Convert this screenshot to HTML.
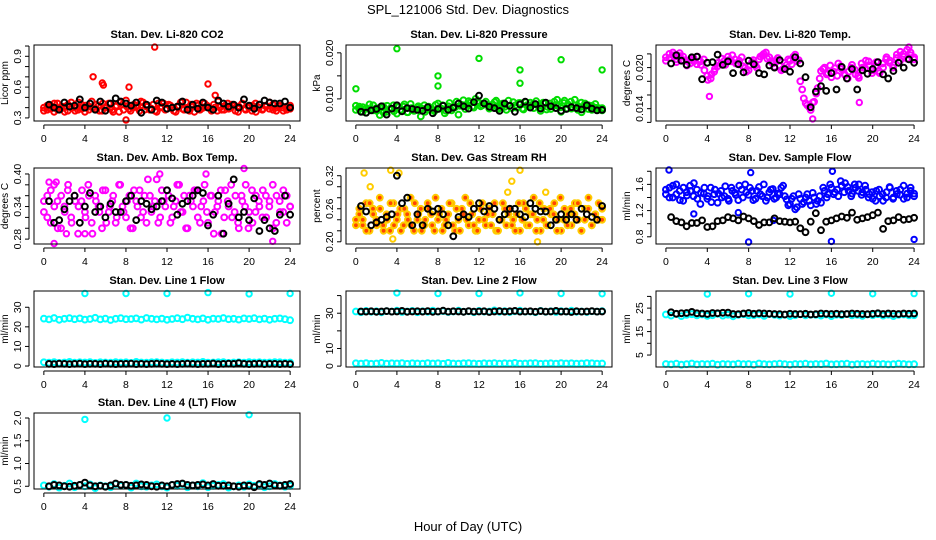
<!DOCTYPE html>
<html><head><meta charset="utf-8"><style>
html,body{margin:0;padding:0;background:#fff;}
svg{display:block;font-family:"Liberation Sans",Arial,sans-serif;}
</style></head><body>
<svg id="chart" width="936" height="540" viewBox="0 0 936 540">
<rect width="936" height="540" fill="#fff"/>
<text x="468" y="14" text-anchor="middle" font-size="13">SPL_121006  Std. Dev. Diagnostics</text>
<text x="468" y="531" text-anchor="middle" font-size="13">Hour of Day (UTC)</text>
</svg>
<script>
// ---- data ----
const hourTicks = [0,4,8,12,16,20,24];

const co2Color = [.40,.38,.42,.36,.44,.39,.41,.37,.45,.40,.38,.43,.36,.41,.46,.39,.42,.37,.40,.44,.38,.41,.36,.43,.47,.39,.40,.42,.37,.45,.41,.38,.43,.36,.40,.44,.39,.42,.37,.41,.45,.38,.40,.43,.36,.42,.39,.44,.41,.37,.40,.46,.38,.42,.39,.43,.37,.41,.44,.38,.40,.42,.36,.43,.39,.41,.45,.38,.40,.42,.37,.41,.39];
const co2Color2 = [.37,.42,.39,.44,.38,.41,.36,.43,.40,.37,.45,.39,.42,.38,.40,.43,.37,.44,.41,.39,.36,.42,.45,.38,.41,.37,.43,.40,.46,.38,.42,.39,.37,.44,.41,.38,.43,.40,.36,.42,.39,.45,.37,.41,.44,.38,.40,.42,.39,.43,.37,.41,.38,.44,.40,.42,.36,.43,.39,.41,.37,.44,.40,.38,.42,.39,.43,.37,.41,.40,.38,.42];
const co2Black = [.43,.40,.38,.45,.41,.42,.48,.40,.44,.38,.46,.37,.44,.49,.46,.44,.42,.45,.35,.43,.38,.47,.45,.39,.40,.41,.46,.38,.43,.39,.45,.40,.38,.47,.44,.41,.43,.40,.48,.42,.39,.43,.47,.45,.44,.44,.46,.40];
const co2OutHour = [4.8,5.7,5.8,8.3,10.8,16,8,16.7];
const co2OutVal = [.70,.64,.62,.60,.99,.63,.28,.52];

const presColor = [8.5,7.8,8.2,7.0,8.8,7.5,8.0,6.5,8.4,7.2,7.9,8.6,6.8,7.6,8.3,7.1,8.9,7.4,8.1,6.2,8.6,7.7,8.0,7.3,9.0,7.9,6.9,8.4,7.5,8.2,6.6,8.7,7.8,9.5,8.3,10.0,9.2,8.6,9.4,7.9,8.8,9.6,8.2,9.0,7.6,8.5,9.3,8.1,9.1,7.7,8.6,9.2,8.0,8.7,7.4,9.0,8.3,7.8,9.4,8.5,7.2,9.6,8.8,7.9,9.8,8.4,7.1,9.0,8.6,7.6,8.9,8.0,7.5];
const presColor2 = [7.6,8.3,7.2,8.0,7.7,8.6,7.4,8.1,7.0,8.5,7.8,7.3,8.2,7.6,8.8,7.1,8.0,7.5,8.4,7.9,7.2,8.3,7.6,8.7,7.9,8.6,7.4,9.1,8.0,9.4,8.5,9.7,8.8,9.2,8.1,9.5,8.4,9.0,8.7,8.2,9.3,7.8,8.9,8.3,9.6,8.0,8.6,9.1,7.9,9.3,8.4,8.8,9.5,8.1,9.2,7.7,9.0,8.5,9.8,8.2,9.1,7.9,9.4,8.6,7.6,9.2,8.3,7.8,8.5,8.1,7.7,8.0];
const presBlack = [7.2,7.0,7.5,7.8,8.4,6.6,7.9,8.6,7.3,8.0,7.8,7.6,7.4,8.2,6.9,7.8,8.5,7.6,8.1,9.0,8.4,7.9,9.3,10.7,9.0,8.3,8.0,7.4,9.0,8.5,7.2,8.8,9.4,8.1,8.9,7.9,9.2,8.4,8.0,7.4,7.8,8.2,8.0,7.7,8.6,7.9,7.5,7.6];
const presOutHour = [0,4,8,8,12,16,16,20,24];
const presOutVal = [12.2,20.9,15.0,12.8,18.8,16.3,13.4,18.5,16.3];

const tempColor = [21.5,22.0,21.8,21.2,22.1,21.6,21.0,20.6,21.4,20.5,20.9,21.2,18.8,18.4,19.4,20.2,20.6,21.0,21.6,20.9,21.2,20.5,21.5,20.0,19.6,20.8,20.3,21.2,21.8,22.2,21.5,20.6,21.1,20.2,19.8,20.4,21.0,21.6,20.9,18.0,15.5,14.5,13.8,15.0,17.0,19.5,20.0,19.2,18.6,19.9,20.6,19.8,18.9,19.4,20.4,19.0,18.5,20.0,21.0,20.3,19.6,20.8,19.2,20.0,21.5,21.0,20.4,21.9,22.3,21.6,22.6,21.8,21.2];
const tempColor2 = [21.0,21.4,22.2,20.8,21.7,21.1,20.3,21.2,20.9,21.6,20.4,19.6,18.2,19.0,19.8,20.7,21.3,20.4,21.1,21.8,20.6,21.0,20.2,19.4,20.3,21.1,20.0,21.6,22.0,21.3,20.9,20.1,21.4,19.6,20.7,21.2,20.5,21.9,21.1,16.8,14.8,14.2,14.9,16.2,18.4,19.8,19.0,20.3,19.4,18.8,20.2,19.1,18.4,20.0,19.7,18.8,20.6,19.9,20.9,19.2,20.2,19.5,20.6,21.2,20.7,20.0,21.4,21.0,22.0,21.3,22.2,21.5];
const tempBlack = [20.6,21.8,21.0,20.4,21.5,21.6,18.3,20.7,20.8,21.9,20.4,20.9,19.2,20.5,19.3,21.0,20.5,19.2,19.0,20.3,20.0,21.1,19.8,19.4,21.5,20.6,18.6,14.2,16.5,17.3,16.6,19.2,16.8,20.1,18.4,19.8,16.8,19.6,19.1,19.8,20.8,19.0,18.4,19.5,20.7,20.0,21.2,20.7];
const tempOutHour = [4.2,14.2,18.7,23.5];
const tempOutVal = [15.8,12.5,14.9,23.0];

const ambColor = [.33,.36,.31,.38,.35,.30,.34,.37,.32,.36,.29,.35,.33,.38,.31,.36,.34,.30,.37,.33,.35,.31,.38,.34,.32,.36,.30,.35,.37,.33,.31,.36,.34,.39,.32,.35,.37,.31,.34,.38,.33,.36,.30,.35,.37,.32,.34,.38,.31,.36,.33,.35,.29,.37,.34,.32,.36,.30,.35,.38,.33,.31,.36,.34,.37,.32,.35,.30,.36,.33,.37,.31,.34];
const ambColor2 = [.35,.32,.37,.34,.30,.36,.33,.38,.31,.35,.34,.37,.32,.36,.29,.35,.33,.37,.31,.34,.36,.32,.38,.33,.35,.30,.37,.34,.32,.36,.39,.33,.35,.31,.37,.34,.36,.32,.35,.38,.33,.30,.36,.34,.37,.31,.35,.33,.36,.29,.34,.37,.32,.35,.38,.33,.31,.36,.34,.30,.37,.33,.35,.32,.36,.34,.38,.31,.35,.33,.36,.34];
const ambBlack = [.35,.31,.315,.335,.35,.36,.31,.34,.365,.33,.34,.32,.345,.33,.33,.35,.36,.315,.35,.345,.335,.34,.35,.37,.355,.325,.345,.35,.36,.37,.365,.305,.325,.36,.29,.345,.39,.32,.33,.315,.355,.295,.315,.30,.295,.325,.36,.325];
const ambOutHour = [1,2.2,11.3,15.8,19.5,22.3,4,0.5,1.2];
const ambOutVal = [.272,.29,.40,.40,.41,.276,.29,.385,.385];

const rhColor = [.24,.25,.23,.27,.22,.26,.24,.28,.23,.25,.22,.27,.24,.26,.23,.25,.28,.22,.24,.26,.23,.27,.25,.22,.24,.26,.23,.25,.27,.22,.24,.26,.28,.23,.25,.22,.24,.27,.23,.26,.25,.22,.24,.27,.23,.26,.24,.25,.22,.27,.23,.25,.28,.24,.22,.26,.23,.25,.27,.24,.22,.26,.25,.23,.27,.24,.22,.26,.28,.23,.25,.24,.26];
const rhColor2 = [.23,.26,.24,.22,.27,.25,.23,.26,.22,.24,.27,.23,.25,.22,.26,.24,.23,.27,.25,.22,.24,.26,.23,.28,.25,.22,.24,.27,.23,.26,.22,.25,.24,.27,.23,.22,.26,.24,.25,.23,.27,.22,.24,.26,.25,.23,.22,.27,.24,.26,.23,.25,.22,.27,.24,.23,.26,.25,.22,.28,.24,.23,.26,.25,.27,.22,.24,.26,.23,.25,.27,.24];
const rhBlack = [.265,.255,.23,.235,.24,.245,.25,.32,.27,.28,.23,.25,.23,.26,.255,.26,.25,.23,.21,.245,.25,.245,.26,.27,.255,.265,.26,.24,.25,.26,.26,.25,.245,.27,.26,.255,.255,.23,.24,.25,.24,.25,.24,.26,.25,.245,.24,.265];
const rhOutHour = [0.8,3.4,3.6,4.2,1.4,15.2,16,17.7,18.5,14.8];
const rhOutVal = [.325,.33,.205,.325,.30,.31,.33,.20,.29,.29];

const flowColor = [1.45,1.55,1.40,1.60,1.50,1.35,1.48,1.58,1.42,1.52,1.30,1.46,1.38,1.55,1.45,1.32,1.50,1.42,1.38,1.55,1.47,1.36,1.52,1.60,1.44,1.50,1.38,1.56,1.42,1.35,1.48,1.53,1.40,1.45,1.58,1.37,1.30,1.42,1.25,1.38,1.33,1.45,1.28,1.40,1.35,1.32,1.50,1.45,1.55,1.48,1.42,1.58,1.62,1.50,1.46,1.55,1.60,1.48,1.52,1.45,1.38,1.50,1.42,1.35,1.48,1.55,1.40,1.45,1.52,1.38,1.46,1.55,1.42];
const flowColor2 = [1.52,1.40,1.58,1.45,1.36,1.55,1.43,1.50,1.62,1.38,1.47,1.55,1.42,1.33,1.52,1.46,1.40,1.57,1.35,1.50,1.44,1.58,1.40,1.48,1.55,1.36,1.50,1.45,1.60,1.40,1.52,1.38,1.46,1.55,1.42,1.28,1.38,1.22,1.45,1.30,1.40,1.35,1.47,1.30,1.42,1.55,1.40,1.60,1.45,1.52,1.65,1.48,1.56,1.42,1.60,1.50,1.44,1.58,1.40,1.48,1.35,1.52,1.45,1.40,1.56,1.38,1.50,1.44,1.58,1.40,1.50,1.46];
const flowBlack = [1.10,1.04,1.02,0.96,1.01,1.01,1.05,0.95,0.96,1.04,1.05,1.10,1.08,1.05,1.11,1.08,1.04,0.98,1.02,1.02,1.08,1.04,1.03,1.02,1.03,0.93,0.87,1.03,1.16,0.90,1.03,1.05,1.08,1.11,1.09,1.17,1.06,1.08,1.10,1.13,1.17,0.92,1.04,1.05,1.10,1.06,1.07,1.09];
const flowOutHour = [0.3,8.2,16.1,8,16,24,2.7,7,10.4];
const flowOutVal = [1.82,1.78,1.80,0.72,0.73,0.76,1.15,1.17,1.05];

const line1Upper = [24.2,23.8,24.5,23.6,24.1,24.4,23.9,24.3,23.7,24.0,24.6,23.8,24.2,23.5,24.1,24.4,23.9,24.0,24.3,23.7,24.5,24.1,23.8,24.2,23.6,24.0,24.4,23.9,24.7,24.1,23.8,24.3,23.6,24.2,24.0,24.5,23.9,24.1,23.7,24.3,24.0,24.4,23.8,24.2,23.6,24.1,24.3,23.9,23.4];
const line1Lower = [1.9,1.7,2.0,1.6,1.8,2.1,1.7,1.9,1.8,2.0,1.6,1.9,1.8,1.7,2.0,1.8,1.9,1.6,2.1,1.8,1.7,1.9,2.0,1.8,1.6,1.9,1.8,2.0,1.7,1.9,1.8,2.1,1.7,1.8,1.9,2.0,1.6,1.8,1.9,1.7,2.0,1.8,1.9,1.7,1.8,2.0,1.9,1.7,1.8];
const line1Black = [1.1,1.0,1.2,1.1,1.0,1.1,1.2,1.0,1.1,1.1,1.0,1.2,1.1,1.0,1.1,1.1,1.2,1.0,1.1,1.0,1.1,1.2,1.1,1.0,1.1,1.0,1.1,1.2,1.1,1.0,1.1,1.1,1.3,1.0,1.1,1.2,1.1,1.5,1.1,1.0,1.1,1.2,1.0,1.1,1.1,1.0,1.1,1.0];
const line1OutHour = [4,8,12,16,20,24];
const line1OutVal = [37,37,37,37.5,36.8,37];

const line2Upper = [31.0,30.6,31.3,30.8,31.1,30.5,31.2,30.9,31.4,30.7,31.0,31.3,30.6,31.1,30.8,31.5,30.9,31.2,30.7,31.0,31.4,30.8,31.1,30.6,31.3,30.9,31.0,31.6,30.8,31.2,30.7,31.1,31.4,30.9,31.0,30.6,31.3,30.8,31.1,30.7,31.2,30.9,31.4,30.8,31.0,30.7,31.1,30.9,31.2];
const line2Lower = [1.6,1.4,1.7,1.3,1.5,1.8,1.4,1.6,1.5,1.7,1.3,1.6,1.5,1.4,1.7,1.5,1.6,1.3,1.8,1.5,1.4,1.6,1.7,1.5,1.3,1.6,1.5,1.7,1.4,1.6,1.5,1.8,1.4,1.5,1.6,1.7,1.3,1.5,1.6,1.4,1.7,1.5,1.6,1.4,1.5,1.7,1.6,1.4,1.5];
const line2Black = [31.0,30.9,31.1,30.8,31.0,31.2,30.9,31.0,31.3,30.8,31.0,31.1,30.9,31.2,30.8,31.0,31.4,30.9,31.1,31.0,30.8,31.2,30.9,31.0,31.1,30.7,31.0,31.2,30.9,31.1,31.3,30.9,31.0,31.1,30.8,31.2,30.9,31.0,31.3,30.9,31.0,30.7,31.1,30.9,31.0,31.2,30.9,31.0];
const line2OutHour = [4,8,12,16,20,24];
const line2OutVal = [41.5,41.2,41.2,41.5,41.2,41.0];

const line3Upper = [22.3,21.8,22.5,21.6,22.1,22.4,21.9,22.3,21.7,22.0,22.6,21.8,22.2,21.5,22.1,22.4,21.9,22.0,22.3,21.7,22.5,22.1,21.8,22.2,21.6,22.0,22.4,21.9,22.2,22.1,21.8,22.3,21.6,22.2,22.0,22.5,21.9,22.1,21.7,22.3,22.0,22.4,21.8,22.2,21.6,22.1,22.3,21.9,22.0];
const line3Lower = [1.2,1.0,1.3,0.9,1.1,1.4,1.0,1.2,1.1,1.3,0.9,1.2,1.1,1.0,1.3,1.1,1.2,0.9,1.4,1.1,1.0,1.2,1.3,1.1,0.9,1.2,1.1,1.3,1.0,1.2,1.1,1.4,1.0,1.1,1.2,1.3,0.9,1.1,1.2,1.0,1.3,1.1,1.2,1.0,1.1,1.3,1.2,1.0,1.1];
const line3Black = [23.2,22.6,22.8,22.9,23.4,22.8,22.7,22.5,22.9,22.8,23.0,23.1,22.5,22.4,22.7,22.9,22.6,22.8,22.7,22.6,22.5,22.4,22.3,22.6,22.5,22.4,22.6,22.3,22.4,22.7,22.6,22.5,22.6,22.4,22.5,22.7,22.6,22.5,22.4,22.6,22.8,22.5,22.7,22.6,22.5,22.7,22.6,22.7];
const line3OutHour = [4,8,12,16,20,24];
const line3OutVal = [31.0,31.1,31.0,31.3,31.1,31.2];

const line4Color = [.52,.49,.55,.47,.51,.56,.48,.53,.50,.54,.46,.52,.50,.48,.55,.51,.53,.47,.56,.50,.49,.52,.54,.50,.47,.53,.51,.55,.48,.52,.50,.57,.48,.51,.53,.55,.47,.50,.52,.49,.54,.51,.53,.48,.50,.55,.52,.49,.51];
const line4Black = [.50,.53,.52,.50,.49,.51,.53,.58,.52,.50,.51,.49,.52,.56,.53,.53,.51,.52,.54,.53,.50,.49,.52,.50,.53,.55,.56,.53,.52,.53,.54,.52,.55,.51,.51,.52,.50,.49,.52,.51,.48,.55,.53,.56,.52,.51,.53,.55];
const line4OutHour = [4,12,20];
const line4OutVal = [1.97,2.00,2.07];

// ---- layout ----
const NS = 'http://www.w3.org/2000/svg';
const svg = document.getElementById('chart');
const colBox = [[34,300],[346,612],[656,924]];
const rowBox = [[45,121],[168,244],[291,367],[413,489]];
const XMIN = -0.96, XMAX = 24.96;

function mk(tag, attrs, parent) {
  const e = document.createElementNS(NS, tag);
  for (const k in attrs) e.setAttribute(k, attrs[k]);
  (parent || svg).appendChild(e);
  return e;
}

function drawPanel(p) {
  const [x0, x1] = colBox[p.col];
  const [y0, y1] = rowBox[p.row];
  const g = mk('g', {});
  
  
  const xs = h => x0 + (h - XMIN) / (XMAX - XMIN) * (x1 - x0);
  const ys = v => y1 - (v - p.ymin) / (p.ymax - p.ymin) * (y1 - y0);

  const t = mk('text', {x: (x0 + x1) / 2, y: y0 - 7, 'text-anchor': 'middle', 'font-size': 11, 'font-weight': 'bold'}, g);
  t.textContent = p.title;
  
  

  const cx = x0 - 26, cy = (y0 + y1) / 2;
  const yl = mk('text', {x: cx, y: cy, 'text-anchor': 'middle', 'font-size': 10, transform: `rotate(-90 ${cx} ${cy})`}, g);
  yl.textContent = p.ylab;
  
  

  const marks = mk('g', {fill: 'none', 'stroke-width': 2}, g);
  
  
  function series(vals, h0, h1, color, fill) {
    const n = vals.length;
    vals.forEach((v, i) => {
      const h = h0 + (n > 1 ? i * (h1 - h0) / (n - 1) : 0);
      const c = mk('circle', {cx: xs(h).toFixed(1), cy: ys(v).toFixed(1), r: 2.9, stroke: color, fill: fill || 'none'}, marks);
      
      
    });
  }
  p.colored.forEach(s => series(s, 0, 24, p.color, p.fill));
  p.outHour.forEach((h, i) => {
    const c = mk('circle', {cx: xs(h).toFixed(1), cy: ys(p.outVal[i]).toFixed(1), r: 2.7, stroke: p.color, fill: 'none'}, marks);
    
    
  });
  series(p.black, 0.5, 24, '#000', 'none');

  const box = mk('rect', {x: x0, y: y0, width: x1 - x0, height: y1 - y0, fill: 'none', stroke: '#000', 'stroke-width': 1}, g);
  
  

  const ya = mk('g', {}, g);
  
  
  const tv = p.ticks;
  mk('line', {x1: x0 - 5, x2: x0 - 5, y1: ys(tv[0]), y2: ys(tv[tv.length - 1]), stroke: '#000'}, ya);
  tv.forEach(v => mk('line', {x1: x0 - 9, x2: x0 - 5, y1: ys(v), y2: ys(v), stroke: '#000'}, ya));
  p.labelVals.forEach((v, i) => {
    const lx = x0 - 13, ly = ys(v);
    const l = mk('text', {x: lx, y: ly, 'text-anchor': 'middle', 'font-size': 10.5, transform: `rotate(-90 ${lx} ${ly})`}, ya);
    l.textContent = p.labels[i];
    
    
  });
  const xa = mk('g', {}, g);
  
  
  mk('line', {x1: xs(hourTicks[0]), x2: xs(hourTicks[hourTicks.length - 1]), y1: y1 + 4, y2: y1 + 4, stroke: '#000'}, xa);
  hourTicks.forEach(h => {
    mk('line', {x1: xs(h), x2: xs(h), y1: y1 + 4, y2: y1 + 8, stroke: '#000'}, xa);
    const l = mk('text', {x: xs(h), y: y1 + 21, 'text-anchor': 'middle', 'font-size': 10.5}, xa);
    l.textContent = String(h);
    
    
  });
}

drawPanel({name:'panel-co2', col:0,row:0,title:'Stan. Dev. Li-820 CO2',ylab:'Licor ppm',ymin:0.27,ymax:1.01,
  ticks:[0.3,0.4,0.5,0.6,0.7,0.8,0.9,1.0],labelVals:[0.3,0.6,0.9],labels:['0.3','0.6','0.9'],
  colored:[co2Color,co2Color2],black:co2Black,outHour:co2OutHour,outVal:co2OutVal,color:'#ff0000'});
drawPanel({name:'panel-pressure', col:1,row:0,title:'Stan. Dev. Li-820 Pressure',ylab:'kPa',ymin:5.2,ymax:21.7,
  ticks:[10,15,20],labelVals:[10,20],labels:['0.010','0.020'],
  colored:[presColor,presColor2],black:presBlack,outHour:presOutHour,outVal:presOutVal,color:'#00dd00'});
drawPanel({name:'panel-temp', col:2,row:0,title:'Stan. Dev. Li-820 Temp.',ylab:'degrees C',ymin:12.2,ymax:23.3,
  ticks:[12,14,16,18,20,22],labelVals:[14,20],labels:['0.014','0.020'],
  colored:[tempColor,tempColor2],black:tempBlack,outHour:tempOutHour,outVal:tempOutVal,color:'#ff00ff'});
drawPanel({name:'panel-amb-box-temp', col:0,row:1,title:'Stan. Dev. Amb. Box Temp.',ylab:'degrees C',ymin:0.271,ymax:0.411,
  ticks:[0.28,0.30,0.32,0.34,0.36,0.38,0.40],labelVals:[0.28,0.34,0.40],labels:['0.28','0.34','0.40'],
  colored:[ambColor,ambColor2],black:ambBlack,outHour:ambOutHour,outVal:ambOutVal,color:'#ff00ff'});
drawPanel({name:'panel-gas-rh', col:1,row:1,title:'Stan. Dev. Gas Stream RH',ylab:'percent',ymin:0.196,ymax:0.334,
  ticks:[0.20,0.22,0.24,0.26,0.28,0.30,0.32],labelVals:[0.20,0.26,0.32],labels:['0.20','0.26','0.32'],
  colored:[rhColor,rhColor2],black:rhBlack,outHour:rhOutHour,outVal:rhOutVal,color:'#ffcc00',fill:'#ff4400'});
drawPanel({name:'panel-sample-flow', col:2,row:1,title:'Stan. Dev. Sample Flow',ylab:'ml/min',ymin:0.69,ymax:1.85,
  ticks:[0.8,1.0,1.2,1.4,1.6,1.8],labelVals:[0.8,1.2,1.6],labels:['0.8','1.2','1.6'],
  colored:[flowColor,flowColor2],black:flowBlack,outHour:flowOutHour,outVal:flowOutVal,color:'#0000ff'});
drawPanel({name:'panel-line1-flow', col:0,row:2,title:'Stan. Dev. Line 1 Flow',ylab:'ml/min',ymin:-0.5,ymax:38.3,
  ticks:[0,10,20,30],labelVals:[0,10,20,30],labels:['0','10','20','30'],
  colored:[line1Upper,line1Lower],black:line1Black,outHour:line1OutHour,outVal:line1OutVal,color:'#00ffff'});
drawPanel({name:'panel-line2-flow', col:1,row:2,title:'Stan. Dev. Line 2 Flow',ylab:'ml/min',ymin:-0.5,ymax:42.6,
  ticks:[0,10,20,30,40],labelVals:[0,10,30],labels:['0','10','30'],
  colored:[line2Upper,line2Lower],black:line2Black,outHour:line2OutHour,outVal:line2OutVal,color:'#00ffff'});
drawPanel({name:'panel-line3-flow', col:2,row:2,title:'Stan. Dev. Line 3 Flow',ylab:'ml/min',ymin:-0.1,ymax:32.3,
  ticks:[5,10,15,20,25,30],labelVals:[5,15,25],labels:['5','15','25'],
  colored:[line3Upper,line3Lower],black:line3Black,outHour:line3OutHour,outVal:line3OutVal,color:'#00ffff'});
drawPanel({name:'panel-line4-flow', col:0,row:3,title:'Stan. Dev. Line 4 (LT) Flow',ylab:'ml/min',ymin:0.44,ymax:2.11,
  ticks:[0.5,1.0,1.5,2.0],labelVals:[0.5,1.0,1.5,2.0],labels:['0.5','1.0','1.5','2.0'],
  colored:[line4Color],black:line4Black,outHour:line4OutHour,outVal:line4OutVal,color:'#00ffff'});
</script>
</body></html>
